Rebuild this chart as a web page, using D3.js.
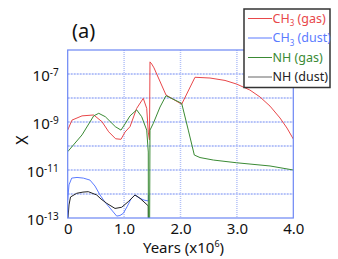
<!DOCTYPE html>
<html>
<head>
<meta charset="utf-8">
<script src="https://cdn.jsdelivr.net/npm/d3@7"></script>
<style>
  body { margin: 0; background: #fff; }
  text { font-family: "Noto Sans", "Liberation Sans", sans-serif; }
</style>
</head>
<body>
<div id="chart-area"></div>
<script>
// years (x10^6) and abundances
var ch3GasX = [0, 0.076, 0.254, 0.461, 0.608, 0.727, 0.85, 0.945, 1.016, 1.105, 1.223, 1.34, 1.401, 1.429, 1.45, 1.459, 1.49, 1.53, 1.743, 2.021, 2.257, 2.523, 2.789, 2.996, 3.23, 3.41, 3.587, 3.764, 3.888, 4.0];
var ch3GasY = [4.6e-10, 1.2e-9, 1.8e-9, 1.96e-9, 1.03e-9, 3.9e-10, 2.0e-10, 1.9e-10, 3.8e-10, 6.4e-10, 3.7e-9, 9.7e-9, 3.7e-9, 3.8e-10, 1.8e-10, 3.2e-7, 2.6e-7, 1.8e-7, 1.33e-8, 5.5e-9, 7.3e-8, 6.8e-8, 5.4e-8, 3.8e-8, 2.15e-8, 1.1e-8, 4.6e-9, 1.47e-9, 5.6e-10, 1.96e-10];

var ch3DustX = [0, 0.023, 0.071, 0.165, 0.277, 0.395, 0.484, 0.573, 0.661, 0.75, 0.869, 0.927, 0.986, 1.051, 1.122, 1.193, 1.282, 1.353, 1.429, 1.431];
var ch3DustY = [5.6e-13, 2.4e-12, 4.6e-12, 4.9e-12, 4.6e-12, 3.8e-12, 2.15e-12, 9.1e-13, 4.6e-13, 2.6e-13, 1.2e-13, 1.27e-13, 1.57e-13, 2.9e-13, 6.2e-13, 9.1e-13, 6.6e-13, 5.6e-13, 5.1e-13, 9.1e-13];

var nhGasX = [0, 0.254, 0.461, 0.55, 0.667, 0.844, 0.945, 1.016, 1.105, 1.223, 1.312, 1.401, 1.429, 1.431, 1.45, 1.459, 1.518, 1.637, 1.743, 2.021, 2.138, 2.245, 2.346, 2.582, 2.996, 3.587, 4.0];
var nhGasY = [5.8e-11, 2.9e-10, 1.8e-9, 2.3e-9, 1.66e-9, 6.4e-10, 4.6e-10, 8.3e-10, 1.8e-9, 3.2e-9, 1.66e-9, 4.6e-10, 5.6e-11, 1e-15, 1e-15, 4.6e-10, 8.8e-10, 4.2e-9, 1.25e-8, 6.0e-9, 4.6e-10, 4.2e-11, 3.3e-11, 2.6e-11, 2.0e-11, 1.47e-11, 1.0e-11];

var nhDustX = [0, 0.023, 0.05, 0.16, 0.271, 0.365, 0.514, 0.59, 0.691, 0.839, 0.957, 1.074, 1.193, 1.282, 1.429, 1.431];
var nhDustY = [6.8e-14, 3.5e-13, 7.5e-13, 1.07e-12, 1.2e-12, 1.25e-12, 9.1e-13, 6.2e-13, 4.1e-13, 2.5e-13, 2.8e-13, 4.8e-13, 9.1e-13, 6.6e-13, 3.2e-13, 1e-15];

var seriesNames = ["CH3 (gas)", "CH3 (dust)", "NH (gas)", "NH (dust)"];
var seriesColors = ["#e8474a", "#5b7bff", "#3a8a34", "#222222"];

var xTicks = [0, 1, 2, 3, 4];
var xTickLabels = ["0", "1.0", "2.0", "3.0", "4.0"];
var yTicks = [1e-7, 1e-9, 1e-11, 1e-13];
var yGrid = [1e-12, 1e-11, 1e-10, 1e-9, 1e-8, 1e-7];

var margin = {left: 67.7, right: 44.7, top: 50, bottom: 41};
var width = 338 - margin.left - margin.right;
var height = 259 - margin.top - margin.bottom;

var svg = d3.select("#chart-area").append("svg")
  .attr("width", 338)
  .attr("height", 259);

var g = svg.append("g")
  .attr("transform", "translate(" + margin.left + "," + margin.top + ")");

var x = d3.scaleLinear().domain([0, 4]).range([0, width]);
var y = d3.scaleLog().domain([1e-13, 1e-6]).range([height, 0]);

g.append("clipPath").attr("id", "plot-clip")
  .append("rect").attr("width", width).attr("height", height);

// grid
g.selectAll(".hgrid").data(yGrid).enter().append("line")
  .attr("class", "hgrid")
  .attr("x1", 0).attr("x2", width)
  .attr("y1", d => y(d)).attr("y2", d => y(d))
  .attr("stroke", "#6f88f2")
  .attr("stroke-width", 1)
  .attr("stroke-dasharray", "2,1");

g.selectAll(".vgrid").data([1, 2, 3]).enter().append("line")
  .attr("class", "vgrid")
  .attr("x1", d => x(d)).attr("x2", d => x(d))
  .attr("y1", 0).attr("y2", height)
  .attr("stroke", "#b3c1f8")
  .attr("stroke-width", 1.5)
  .attr("stroke-dasharray", "1,1");

// curves
var line = d3.line()
  .x(d => x(d[0]))
  .y(d => y(d[1]));

var allX = [ch3GasX, ch3DustX, nhGasX, nhDustX];
var allY = [ch3GasY, ch3DustY, nhGasY, nhDustY];
var order = [1, 3, 0, 2];

var curves = g.append("g").attr("clip-path", "url(#plot-clip)");
order.forEach(i => {
  var pts = allX[i].map((v, j) => [v, allY[i][j]]);
  curves.append("path")
    .datum(pts)
    .attr("d", line)
    .attr("fill", "none")
    .attr("stroke", seriesColors[i])
    .attr("stroke-width", 1)
    .attr("stroke-linejoin", "round");
});

// frame
g.append("rect")
  .attr("width", width).attr("height", height)
  .attr("fill", "none")
  .attr("stroke", "#6c86f4")
  .attr("stroke-width", 1.2);

// axes
var xAxisCall = d3.axisBottom(x).tickValues(xTicks).tickSize(0)
  .tickFormat((d, i) => xTickLabels[i]);
var xAxisGroup = g.append("g")
  .attr("transform", "translate(0," + height + ")")
  .call(xAxisCall);
xAxisGroup.select(".domain").remove();
xAxisGroup.selectAll("text")
  .attr("y", 5)
  .attr("dy", "0.71em")
  .attr("font-size", "15px")
  .attr("fill", "#111");

var yAxisCall = d3.axisLeft(y).tickValues(yTicks).tickSize(0).tickFormat("");
var yAxisGroup = g.append("g").call(yAxisCall);
yAxisGroup.select(".domain").remove();
yAxisGroup.selectAll(".tick text").each(function(d) {
  var t = d3.select(this)
    .attr("x", -9)
    .attr("dy", "0.45em")
    .attr("font-size", "15px")
    .attr("fill", "#111");
  t.append("tspan").text("10");
  t.append("tspan")
    .attr("dy", "-0.55em")
    .attr("font-size", "10px")
    .text(String(Math.round(Math.log10(d))));
});

// labels
var xLabel = g.append("text")
  .attr("x", width / 2 + 3)
  .attr("y", height + 35)
  .attr("text-anchor", "middle")
  .attr("font-size", "15px")
  .attr("fill", "#111");
xLabel.append("tspan").text("Years (x10");
xLabel.append("tspan").attr("dy", -6).attr("font-size", "9px").text("6");
xLabel.append("tspan").attr("dy", 6).text(")");

svg.append("text")
  .attr("transform", "translate(28,140) rotate(-90)")
  .attr("text-anchor", "middle")
  .attr("font-size", "16px")
  .attr("fill", "#111")
  .text("X");

svg.append("text")
  .attr("x", 72)
  .attr("y", 38)
  .attr("font-size", "20px")
  .attr("fill", "#111")
  .text("(a)");

// legend
var legend = svg.append("g").attr("transform", "translate(244,9)");
legend.append("rect")
  .attr("width", 86).attr("height", 78.5)
  .attr("fill", "#fff")
  .attr("stroke", "#333")
  .attr("stroke-width", 1.5);

seriesNames.forEach((name, i) => {
  var row = legend.append("g")
    .attr("transform", "translate(0," + (9.5 + i * 19.5) + ")");
  row.append("line")
    .attr("x1", 4).attr("x2", 28)
    .attr("stroke", i == 3 ? "#666" : seriesColors[i])
    .attr("stroke-width", 1);
  var parts = name.split("3");
  var t = row.append("text")
    .attr("x", 28.5)
    .attr("dy", "0.35em")
    .attr("font-size", "12.5px")
    .attr("fill", seriesColors[i]);
  if (parts.length > 1) {
    t.append("tspan").text(parts[0]);
    t.append("tspan").attr("dy", 3.5).attr("font-size", "8px").text("3");
    t.append("tspan").attr("dy", -3.5).text(parts[1]);
  } else {
    t.text(name);
  }
});
</script>
</body>
</html>
